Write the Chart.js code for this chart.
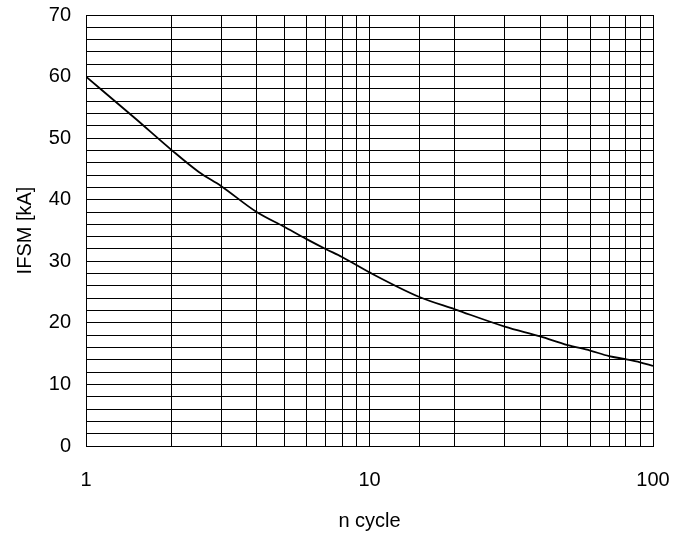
<!DOCTYPE html>
<html>
<head>
<meta charset="utf-8">
<script src="https://cdn.jsdelivr.net/npm/chart.js@4/dist/chart.umd.min.js"></script>
<style>
  html, body { margin: 0; padding: 0; background: #fff; }
  #wrap { width: 688px; height: 538px; }
</style>
</head>
<body>
<div id="wrap"><canvas id="c" width="688" height="538"></canvas></div>
<script>
const cycles = [1, 1.5, 2, 2.5, 3, 4, 5, 6, 7, 8, 10, 15, 20, 30, 40, 50, 60, 70, 80, 90, 100];
const ifsm = [60, 53.1, 48.1, 44.5, 42.2, 38.0, 35.6, 33.6, 32.0, 30.7, 28.2, 24.2, 22.2, 19.4, 17.8, 16.4, 15.5, 14.6, 14.1, 13.6, 13.0];
const xLabels = [1, 10, 100];
const yLabels = [0, 10, 20, 30, 40, 50, 60, 70];

const FONT = "'Liberation Sans', Arial, sans-serif";

new Chart(document.getElementById('c'), {
  type: 'line',
  data: {
    datasets: [{
      data: cycles.map((x, i) => ({ x: x, y: ifsm[i] })),
      borderColor: '#000',
      borderWidth: 1.8,
      pointRadius: 0,
      fill: false,
      cubicInterpolationMode: 'monotone'
    }]
  },
  options: {
    responsive: false,
    animation: false,
    layout: { padding: { left: 0, right: 35, top: 15, bottom: 0 } },
    plugins: { legend: { display: false }, tooltip: { enabled: false } },
    scales: {
      x: {
        type: 'logarithmic',
        min: 1, max: 100,
        afterFit: s => { s.height = 92; s.paddingLeft = 0; s.paddingRight = 0; },
        grid: { color: '#000', lineWidth: 1, drawTicks: false },
        border: { color: '#000', width: 1 },
        ticks: {
          autoSkip: false, maxRotation: 0, padding: 22,
          color: '#000', font: { family: FONT, size: 20 },
          callback: v => xLabels.includes(v) ? String(v) : ''
        },
        title: {
          display: true, text: 'n cycle', color: '#000',
          font: { family: FONT, size: 20 }, padding: { top: 0, bottom: 5 }
        }
      },
      y: {
        min: 0, max: 70,
        afterFit: s => { s.width = 86; s.paddingTop = 0; s.paddingBottom = 0; },
        grid: { color: '#000', lineWidth: 1, drawTicks: false },
        border: { color: '#000', width: 1 },
        ticks: {
          stepSize: 2, autoSkip: false, padding: 15,
          color: '#000', font: { family: FONT, size: 20 },
          callback: v => yLabels.includes(v) ? String(v) : ''
        },
        title: {
          display: true, text: 'IFSM [kA]', color: '#000',
          font: { family: FONT, size: 20 }, padding: { top: 13, bottom: 0 }
        }
      }
    }
  }
});
</script>
</body>
</html>
